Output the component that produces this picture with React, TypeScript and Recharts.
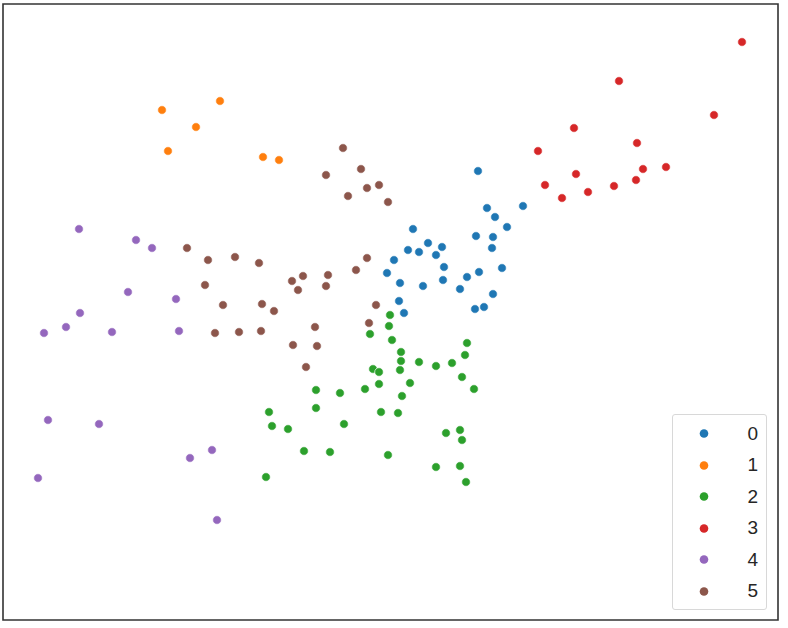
import { ScatterChart, Scatter, XAxis, YAxis, ReferenceArea, Legend } from 'recharts'

// points, in picture units (y grows downwards)
const cluster0 = [
  [478, 171], [487, 208], [523, 206], [495, 217], [507, 227], [413, 229], [476, 236], [493, 237],
  [428, 243], [442, 247], [408, 250], [419, 252], [492, 248], [436, 255], [394, 260], [444, 267],
  [502, 268], [387, 273], [479, 272], [467, 277], [443, 280], [400, 283], [423, 286], [460, 289],
  [493, 294], [399, 301], [404, 313], [475, 309], [484, 307],
]
const cluster1 = [[162, 110], [220, 101], [196, 127], [168, 151], [263, 157], [279, 160]]
const cluster2 = [
  [390, 315], [389, 326], [370, 334], [392, 340], [467, 343], [401, 352], [465, 355], [401, 361],
  [419, 362], [436, 366], [452, 363], [373, 369], [379, 372], [400, 370], [462, 377], [379, 384],
  [410, 383], [316, 390], [340, 393], [365, 389], [474, 389], [402, 396], [316, 408], [269, 412],
  [381, 412], [398, 413], [272, 426], [288, 429], [344, 424], [446, 433], [460, 430], [462, 440],
  [304, 451], [330, 452], [388, 455], [436, 467], [460, 466], [466, 482], [266, 477],
]
const cluster3 = [
  [742, 42], [619, 81], [714, 115], [574, 128], [637, 143], [538, 151], [576, 174], [643, 169],
  [666, 167], [545, 185], [636, 180], [614, 186], [588, 192], [562, 198],
]
const cluster4 = [
  [79, 229], [136, 240], [152, 248], [128, 292], [176, 299], [80, 313], [66, 327], [44, 333],
  [112, 332], [179, 331], [48, 420], [99, 424], [212, 450], [190, 458], [38, 478], [217, 520],
]
const cluster5 = [
  [343, 148], [361, 169], [326, 175], [379, 185], [367, 188], [348, 196], [388, 202], [187, 248],
  [208, 260], [235, 257], [259, 263], [205, 285], [223, 305], [262, 304], [215, 333], [239, 332],
  [261, 331], [367, 258], [356, 270], [292, 281], [303, 276], [328, 275], [298, 290], [326, 286],
  [274, 311], [376, 305], [369, 323], [315, 327], [293, 345], [317, 346], [306, 367],
]

const clusters = [cluster0, cluster1, cluster2, cluster3, cluster4, cluster5]
const labels = ['0', '1', '2', '3', '4', '5']
const colors = ['#1f77b4', '#ff7f0e', '#2ca02c', '#d62728', '#9467bd', '#8c564b']

const X_DOMAIN = [3, 778]
const Y_DOMAIN = [4, 620]

const Dot = (props: any) => (
  <circle cx={props.cx} cy={props.cy} r={4.3} fill={props.fill} stroke="#fff" strokeWidth={0.7} />
)

const LegendBox = () => (
  <div
    style={{
      width: 95,
      height: 196,
      boxSizing: 'border-box',
      border: '1px solid #d8d8d8',
      borderRadius: 3,
      background: '#fff',
      paddingTop: 3,
      fontFamily: '"Liberation Sans", Arial, sans-serif',
      fontSize: 19,
      color: '#262626',
    }}
  >
    {labels.map((label, i) => (
      <div key={label} style={{ display: 'flex', alignItems: 'center', height: 31.5 }}>
        <svg width={62} height={31.5}>
          <circle cx={31} cy={15.5} r={4.3} fill={colors[i]} />
        </svg>
        <span style={{ width: 23, textAlign: 'right' }}>{label}</span>
      </div>
    ))}
  </div>
)

export default function App() {
  return (
    <div style={{ position: 'absolute', left: 0, top: 0, background: '#fff' }}>
      <ScatterChart width={788} height={628} margin={{ top: 4, right: 10, bottom: 8, left: 3 }}>
        <XAxis type="number" dataKey="x" domain={X_DOMAIN} hide />
        <YAxis type="number" dataKey="y" domain={Y_DOMAIN} reversed hide />
        {clusters.map((pts, i) => (
          <Scatter
            key={labels[i]}
            name={labels[i]}
            data={pts.map(([x, y]) => ({ x, y }))}
            fill={colors[i]}
            shape={Dot}
            isAnimationActive={false}
          />
        ))}
        <ReferenceArea
          x1={X_DOMAIN[0]}
          x2={X_DOMAIN[1]}
          y1={Y_DOMAIN[0]}
          y2={Y_DOMAIN[1]}
          fill="none"
          fillOpacity={0}
          stroke="#333"
          strokeWidth={1.6}
        />
        <Legend
          layout="vertical"
          align="center"
          verticalAlign="middle"
          content={<LegendBox />}
          wrapperStyle={{ position: 'absolute', left: 672, top: 414, width: 95, height: 196 }}
        />
      </ScatterChart>
    </div>
  )
}
